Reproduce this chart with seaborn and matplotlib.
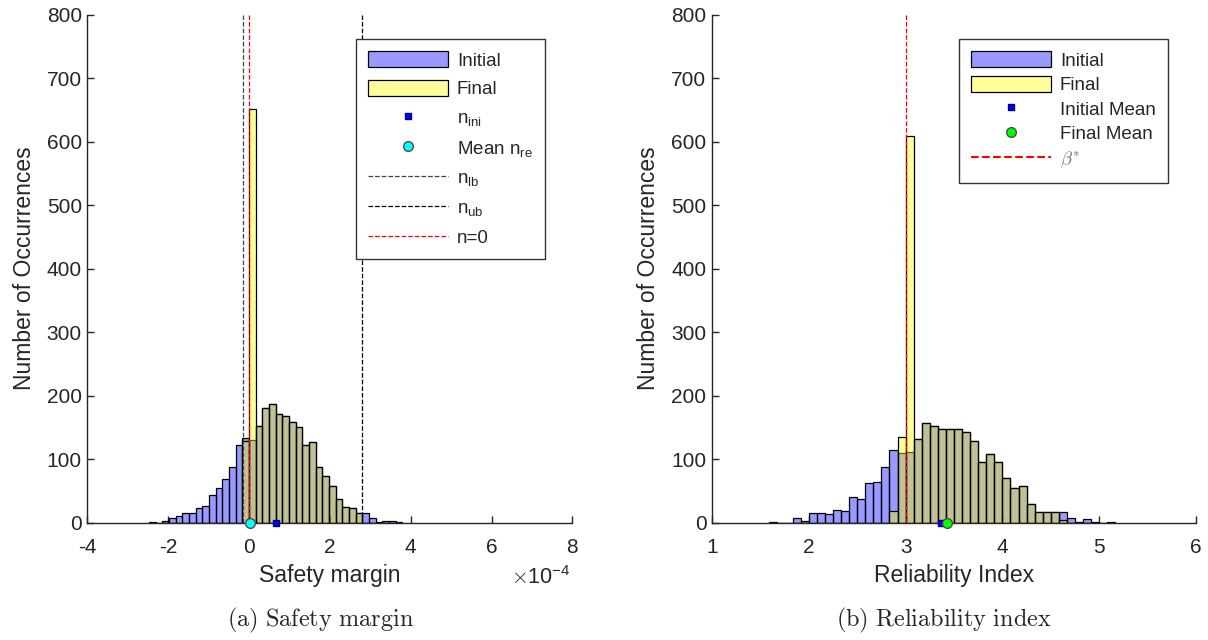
import numpy as np
import pandas as pd
import matplotlib
matplotlib.use('Agg')
import matplotlib.pyplot as plt
import seaborn as sns
from matplotlib.lines import Line2D
from matplotlib.patches import Patch

# Safety margin histogram (x values in units of 1e-4), bins indexed from 0
sm_bin_width = 0.165
sm_first_bin = -15
sm_initial = [1, 0, 2, 7, 10, 16, 16, 23, 26, 44, 54, 69, 88, 122, 133, 130, 153, 180, 187,
              171, 168, 159, 150, 123, 127, 87, 73, 57, 38, 25, 23, 16, 15, 8, 1, 3, 3, 1]
sm_final = [0, 0, 0, 0, 0, 0, 0, 0, 0, 0, 0, 0, 0, 0, 128, 652, 153, 180, 187,
            171, 168, 159, 150, 123, 127, 87, 73, 57, 38, 25, 23, 16, 0, 0, 0, 0, 0, 0]
sm_ini_mean = 0.67
sm_re_mean = 0.02
sm_lb = -0.16
sm_ub = 2.8

# Reliability index histogram, bins indexed from beta* = 3
ri_bin_width = 0.0833
ri_first_bin = -17
ri_target = 3.0
ri_initial = [1, 0, 0, 7, 2, 16, 15, 13, 20, 18, 40, 37, 62, 64, 88, 115, 110, 112, 132, 157,
              152, 147, 147, 147, 142, 128, 96, 108, 95, 71, 55, 58, 29, 17, 17, 17, 17, 8,
              1, 6, 1, 0, 1]
ri_final = [0, 0, 0, 0, 0, 0, 0, 0, 0, 0, 0, 0, 0, 0, 0, 19, 135, 608, 132, 157,
            152, 147, 147, 147, 142, 128, 96, 108, 95, 71, 55, 58, 29, 17, 17, 17, 5, 0,
            0, 0, 0, 0, 0]
ri_ini_mean = 3.37
ri_fin_mean = 3.43

sns.set_style('ticks')
plt.rcParams['font.family'] = ['Liberation Sans', 'DejaVu Sans']
plt.rcParams['mathtext.fontset'] = 'cm'
plt.rcParams['axes.unicode_minus'] = False

TXT = (0.15, 0.15, 0.15)
BLUE = (0, 0, 1)
YELLOW = (1, 1, 0)


def draw_hist(ax, edges, counts, color):
    df = pd.DataFrame({'x': (edges[:-1] + edges[1:]) / 2, 'count': counts})
    sns.histplot(data=df, x='x', weights='count', bins=list(edges), color=color, alpha=0.4,
                 edgecolor='black', linewidth=0.9, ax=ax)


def style_axes(ax, xlim, xticks, xlabel):
    ax.set_xlim(*xlim)
    ax.set_ylim(0, 800)
    ax.set_xticks(xticks)
    ax.set_yticks(range(0, 801, 100))
    sns.despine(ax=ax)
    for s in ['left', 'bottom']:
        ax.spines[s].set_linewidth(1.0)
        ax.spines[s].set_color(TXT)
    ax.tick_params(direction='in', length=5, width=1.0, colors=TXT, labelsize=15)
    ax.tick_params(axis='x', pad=11)
    ax.tick_params(axis='y', pad=4)
    ax.set_xlabel(xlabel, fontsize=16.5, color=TXT, labelpad=5)
    ax.set_ylabel('Number of Occurrences', fontsize=16.5, color=TXT, labelpad=8)


def make_legend(ax, handles, labels, anchor, spacing):
    leg = ax.legend(handles, labels, loc='upper right', bbox_to_anchor=anchor, borderaxespad=0,
                    fontsize=13.5, handlelength=4.3, handleheight=0.95, handletextpad=0.45,
                    labelspacing=spacing, fancybox=False, framealpha=1, edgecolor='0.2',
                    borderpad=0.65)
    leg.get_frame().set_linewidth(1.0)
    return leg


fig = plt.figure(figsize=(12.08, 6.4), dpi=100)
ax1 = fig.add_axes([0.0723, 0.1833, 0.4015, 0.794])
ax2 = fig.add_axes([0.5894, 0.1833, 0.4007, 0.794])

# (a) Safety margin
sm_edges = sm_bin_width * np.arange(sm_first_bin, sm_first_bin + len(sm_initial) + 1)
draw_hist(ax1, sm_edges, sm_initial, BLUE)
draw_hist(ax1, sm_edges, sm_final, YELLOW)
ax1.axvline(sm_lb, color='0.25', ls='--', lw=0.9)
ax1.axvline(sm_ub, color='black', ls='--', lw=0.9)
ax1.axvline(0, color='red', ls='--', lw=0.9)
ax1.plot([sm_ini_mean], [0], 's', ms=5, mfc='blue', mec='navy', clip_on=False, zorder=6)
ax1.plot([sm_re_mean], [0], 'o', ms=7, mfc='cyan', mec='0.3', clip_on=False, zorder=6)
style_axes(ax1, (-4, 8), range(-4, 9, 2), 'Safety margin')
ax1.text(0.997, -0.085, r'$\times\mathregular{10^{-4}}$', transform=ax1.transAxes,
         ha='right', va='top', fontsize=15.5, color=TXT)

h1 = [Patch(facecolor=(0, 0, 1, 0.4), edgecolor='black', lw=0.9),
      Patch(facecolor=(1, 1, 0, 0.4), edgecolor='black', lw=0.9),
      Line2D([], [], ls='none', marker='s', ms=5, mfc='blue', mec='navy'),
      Line2D([], [], ls='none', marker='o', ms=7, mfc='cyan', mec='0.3'),
      Line2D([], [], color='0.25', ls='--', lw=0.9),
      Line2D([], [], color='black', ls='--', lw=0.9),
      Line2D([], [], color='red', ls='--', lw=0.9)]
l1 = ['Initial', 'Final', r'$\mathregular{n_{ini}}$', r'$\mathregular{Mean\ n_{re}}$',
      r'$\mathregular{n_{lb}}$', r'$\mathregular{n_{ub}}$', 'n=0']
make_legend(ax1, h1, l1, (0.9437, 0.952), 0.55)

# (b) Reliability index
ri_edges = ri_target + ri_bin_width * np.arange(ri_first_bin, ri_first_bin + len(ri_initial) + 1)
draw_hist(ax2, ri_edges, ri_initial, BLUE)
draw_hist(ax2, ri_edges, ri_final, YELLOW)
ax2.axvline(ri_target, color='red', ls='--', lw=0.9)
ax2.plot([ri_ini_mean], [0], 's', ms=5, mfc='blue', mec='navy', clip_on=False, zorder=6)
ax2.plot([ri_fin_mean], [0], 'o', ms=7, mfc=(0, 1, 0), mec='0.3', clip_on=False, zorder=6)
style_axes(ax2, (1, 6), range(1, 7), 'Reliability Index')

h2 = [Patch(facecolor=(0, 0, 1, 0.4), edgecolor='black', lw=0.9),
      Patch(facecolor=(1, 1, 0, 0.4), edgecolor='black', lw=0.9),
      Line2D([], [], ls='none', marker='s', ms=5, mfc='blue', mec='navy'),
      Line2D([], [], ls='none', marker='o', ms=7, mfc=(0, 1, 0), mec='0.3'),
      Line2D([], [], color='red', ls='--', lw=1.5)]
l2 = ['Initial', 'Final', 'Initial Mean', 'Final Mean', r'$\beta^{*}$']
leg2 = make_legend(ax2, h2, l2, (0.942, 0.952), 0.32)
leg2.get_texts()[-1].set_color('0.45')

fig.text(321 / 1208, 1 - 620 / 640, r'$\mathrm{(a)\ Safety\ margin}$', ha='center', va='center',
         fontsize=17.5)
fig.text(944 / 1208, 1 - 620 / 640, r'$\mathrm{(b)\ Reliability\ index}$', ha='center',
         va='center', fontsize=17.5)

fig.savefig('out.png', dpi=100)
